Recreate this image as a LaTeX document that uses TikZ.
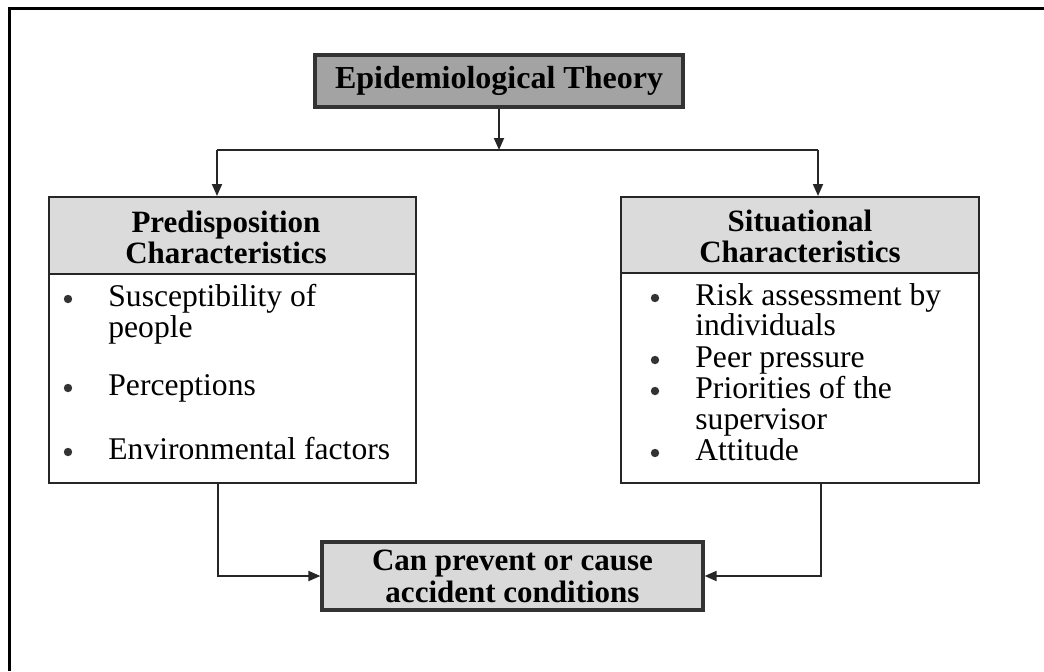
\documentclass[tikz,border=0pt]{standalone}
\usepackage{fontspec}
\setmainfont{Liberation Serif}
\usetikzlibrary{arrows.meta}
\begin{document}
\begin{tikzpicture}[x=0.5pt,y=-0.5pt,
  font=\fontsize{15.5pt}{16pt}\selectfont,
  topbox/.style={draw=black!80, line width=1.6pt, fill=black!36, minimum width=184pt, minimum height=26pt, inner sep=0pt, font=\fontsize{16pt}{16pt}\selectfont\bfseries},
  botbox/.style={draw=black!80, line width=1.6pt, fill=black!15, minimum width=190.5pt, minimum height=34pt, inner sep=0pt, align=center, font=\fontsize{15.5pt}{16pt}\selectfont\bfseries},
  listbox/.style={draw=black!85, line width=1pt, anchor=north west, inner sep=0pt},
  headbox/.style={draw=black!85, line width=1pt, fill=black!14, anchor=north west, inner sep=0pt},
  headtext/.style={align=center, inner sep=0pt, font=\fontsize{15.5pt}{15.5pt}\selectfont\bfseries},
  itemtext/.style={anchor=base west, inner sep=0pt, font=\fontsize{15.8pt}{15.8pt}\selectfont},
  dot/.style={circle, fill=black!80, inner sep=0pt, minimum size=4.2pt},
  arr/.style={draw=black!85, line width=0.9pt, -{Triangle[length=6pt,width=5pt]}},
  ln/.style={draw=black!85, line width=0.9pt}
]
\useasboundingbox (0,0) rectangle (1044,671);
\fill[white] (0,0) rectangle (1044,671);
% outer frame (left and top only)
\draw[line width=1.6pt] (9.5,671) -- (9.5,8.5) -- (1044,8.5);

% top node
\node[topbox] (epi) at (499,81) {Epidemiological Theory};

% left box
\node[listbox, minimum width=183.5pt, minimum height=143pt] (lbox) at (48,196) {};
\node[headbox, minimum width=183.5pt, minimum height=38.5pt] (lhead) at (48,196) {};
\node[headtext] (lht) at (226,237) {Predisposition\\Characteristics};
\node[dot] (ld1) at (68,299) {};
\node[itemtext] (li1a) at (108,306) {Susceptibility of};
\node[itemtext] (li1b) at (108,337) {people};
\node[dot] (ld2) at (68,388) {};
\node[itemtext] (li2) at (108,395) {Perceptions};
\node[dot] (ld3) at (68,452) {};
\node[itemtext] (li3) at (108,459) {Environmental factors};

% right box
\node[listbox, minimum width=179pt, minimum height=143pt] (rbox) at (620,196) {};
\node[headbox, minimum width=179pt, minimum height=38pt] (rhead) at (620,196) {};
\node[headtext] (rht) at (800,236) {Situational\\Characteristics};
\node[dot] (rd1) at (655,298) {};
\node[itemtext] (ri1a) at (695,305) {Risk assessment by};
\node[itemtext] (ri1b) at (695,335) {individuals};
\node[dot] (rd2) at (655,360) {};
\node[itemtext] (ri2) at (695,367) {Peer pressure};
\node[dot] (rd3) at (655,391) {};
\node[itemtext] (ri3a) at (695,398) {Priorities of the};
\node[itemtext] (ri3b) at (695,429) {supervisor};
\node[dot] (rd4) at (655,453) {};
\node[itemtext] (ri4) at (695,460) {Attitude};

% bottom node
\node[botbox] (bot) at (512.5,576) {Can prevent or cause\\accident conditions};

% connectors
\coordinate (hub) at (499,150);
\coordinate (L) at (217,150);
\coordinate (R) at (818,150);
\draw[arr] (epi.south) -- (hub);
\draw[ln] (L) -- (R);
\draw[arr] (L) -- (L |- lhead.north);
\draw[arr] (R) -- (R |- rhead.north);
\coordinate (lb) at (218,482);
\coordinate (rb) at (821,482);
\draw[arr] (lb) |- (bot.west);
\draw[arr] (rb) |- (bot.east);
\end{tikzpicture}
\end{document}
